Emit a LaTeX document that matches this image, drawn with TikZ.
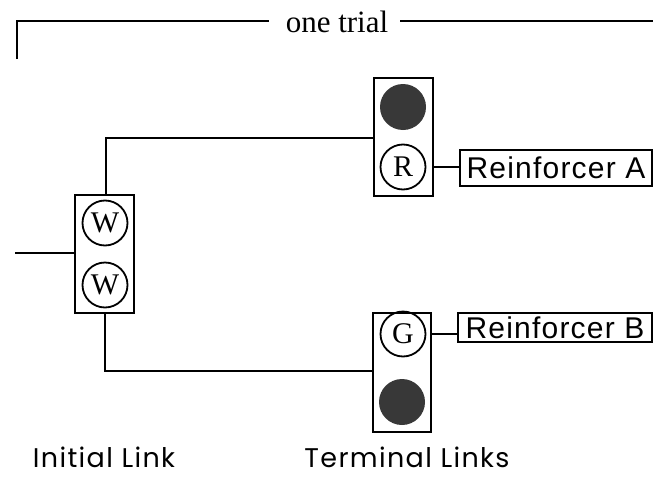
\documentclass[tikz,border=0pt]{standalone}
\usepackage{fontspec}
\setmainfont{Liberation Serif}
\newfontfamily\boxfont[LetterSpace=4]{Liberation Sans}
\newfontfamily\labfont[LetterSpace=5]{Poppins}
\begin{document}
\begin{tikzpicture}[x=1pt,y=-1pt,
  ln/.style={line width=2pt},
  panel/.style={draw,line width=2pt,rectangle,inner sep=0pt},
  lamp/.style={draw,line width=1.8pt,circle,inner sep=0pt,minimum size=45pt,font=\fontsize{30}{32}\selectfont},
  dark/.style={circle,fill=black!78,inner sep=0pt,minimum size=46pt},
  rbox/.style={draw,line width=2pt,rectangle,inner sep=0pt,font=\boxfont\fontsize{30}{31}\selectfont},
  lab/.style={anchor=base,inner sep=0pt,font=\labfont\fontsize{27}{29}\selectfont}]
\useasboundingbox (0,0) rectangle (653,479);
% bracket
\node[anchor=base,inner sep=0pt,font=\fontsize{31}{33}\selectfont] (trial) at (337,32) {one trial};
\coordinate (bl) at (17,59);
\coordinate (bc) at (17,21);
\coordinate (blr) at (269,21);
\coordinate (brl) at (400,21);
\coordinate (br) at (653,21);
\draw[ln] (bl) -- (bc) -- (blr);
\draw[ln] (brl) -- (br);
% initial link
\node[panel,minimum width=59pt,minimum height=118pt] (wbox) at (104.5,254) {};
\node[lamp] (w1) at (105,223) {W};
\node[lamp] (w2) at (105,285) {W};
\coordinate (in) at (15,253);
\draw[ln] (in) -- (wbox.west |- in);
% terminal A
\node[panel,minimum width=59pt,minimum height=118pt] (abox) at (403.5,137) {};
\node[dark] (ad) at (403,107) {};
\node[lamp] (ar) at (403,167) {R};
\node[rbox,minimum width=192pt,minimum height=36pt] (ra) at (556,168) {Reinforcer A};
\draw[ln] (ar.east -| abox.east) -- (ar.east -| ra.west);
% terminal B
\node[panel,minimum width=58pt,minimum height=119pt] (bbox) at (402,372.5) {};
\node[lamp] (bg) at (403,334) {G};
\node[dark] (bd) at (402,402) {};
\node[rbox,minimum width=194pt,minimum height=29pt] (rb) at (555,327.5) {Reinforcer B};
\draw[ln] (bg.east -| bbox.east) -- (bg.east -| rb.west);
% connectors
\draw[ln] (wbox.north -| 106,0) |- (abox.west |- 0,138);
\draw[ln] (wbox.south -| 105,0) |- (bbox.west |- 0,371);
% labels
\node[lab] (il) at (104,467) {Initial Link};
\node[lab] (tl) at (407,467) {Terminal Links};
\end{tikzpicture}
\end{document}
